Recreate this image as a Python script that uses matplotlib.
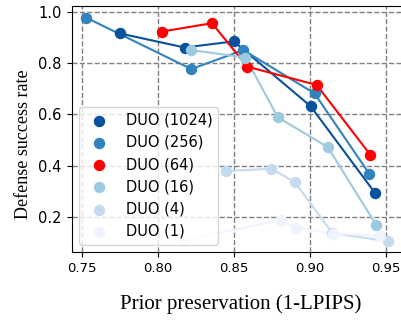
import matplotlib
matplotlib.use('Agg')
import matplotlib.pyplot as plt

# データ (読み取り値)
labels = ['DUO (1024)', 'DUO (256)', 'DUO (64)', 'DUO (16)', 'DUO (4)', 'DUO (1)']
colors = ['#08519c', '#3182bd', '#ff0000', '#9ecae1', '#c6dbef', '#eff3ff']

x_1024 = [0.775, 0.8176, 0.850, 0.9006, 0.943]
y_1024 = [0.916, 0.861, 0.885, 0.632, 0.294]
x_256 = [0.7526, 0.822, 0.8563, 0.9032, 0.9393]
y_256 = [0.978, 0.777, 0.851, 0.682, 0.368]
x_64 = [0.8028, 0.8356, 0.859, 0.9046, 0.940]
y_64 = [0.9235, 0.956, 0.786, 0.715, 0.442]
x_16 = [0.822, 0.8577, 0.879, 0.912, 0.944]
y_16 = [0.851, 0.822, 0.589, 0.472, 0.167]
x_4 = [0.8447, 0.8746, 0.8902, 0.9149, 0.9513]
y_4 = [0.379, 0.388, 0.336, 0.137, 0.105]
x_1 = [0.8169, 0.8808, 0.8911, 0.9156, 0.9464]
y_1 = [0.109, 0.187, 0.157, 0.135, 0.126]

xs = [x_1024, x_256, x_64, x_16, x_4, x_1]
ys = [y_1024, y_256, y_64, y_16, y_4, y_1]

fig = plt.figure(figsize=(4.02, 3.2), dpi=100)
ax = fig.add_axes([0.178, 0.2125, 0.826, 0.7703])

for x, y, c, lab in zip(xs, ys, colors, labels):
    ax.plot(x, y, '-', color=c, lw=1.5)
    ax.scatter(x, y, s=52, color=c, label=lab, zorder=3)

ax.set_xlim(0.7431, 0.9619)
ax.set_ylim(0.063, 1.025)
ax.set_xticks([0.75, 0.80, 0.85, 0.90, 0.95])
ax.set_yticks([0.2, 0.4, 0.6, 0.8, 1.0])
ax.tick_params(axis='x', labelsize=9.5)
ax.tick_params(axis='y', labelsize=10.5)
ax.grid(True, ls='--', color='gray', lw=1)

ax.set_xlabel('Prior preservation (1-LPIPS)', family='Liberation Serif', fontsize=15)
ax.set_ylabel('Defense success rate', family='Liberation Serif', fontsize=13)
ax.xaxis.set_label_coords(0.51, -0.17)
ax.yaxis.set_label_coords(-0.12, 0.438)

ax.legend(loc='lower left', fontsize=10.5)

fig.savefig('out.png', dpi=100)
